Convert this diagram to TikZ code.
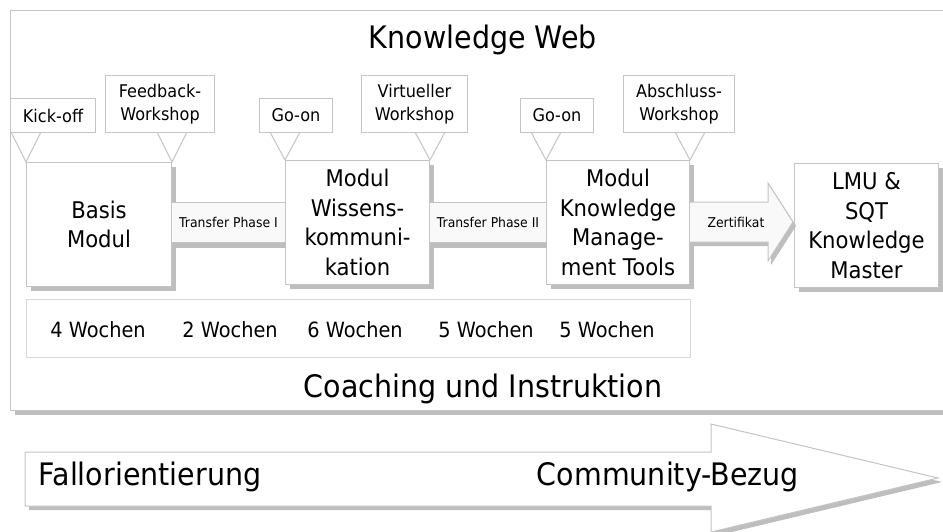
\documentclass[tikz,border=0pt]{standalone}
\usepackage{fontspec}
\setmainfont[FakeStretch=0.92]{DejaVu Sans}
\usetikzlibrary{shadows,calc}
\definecolor{lgray}{RGB}{196,196,196}
\definecolor{sgray}{RGB}{190,190,190}
\definecolor{wgray}{RGB}{216,216,216}
\definecolor{tfill}{RGB}{249,249,249}
\newcommand\myfs[2]{\fontsize{#1}{#2}\selectfont}
\begin{document}
\begin{tikzpicture}[x=1pt,y=-1pt,
 ln/.style={draw=lgray,line width=1pt},
 shad/.style={drop shadow={shadow xshift=4pt,shadow yshift=-4pt,fill=sgray,opacity=1}},
 callout/.style={ln,fill=white,anchor=north west,inner sep=0pt,align=center,font=\myfs{17.5}{23}},
 modbox/.style={ln,fill=white,shad,anchor=north west,inner sep=0pt,align=center,font=\myfs{23}{29.5}},
 transbox/.style={ln,fill=tfill,anchor=north west,inner sep=0pt,font=\myfs{13.5}{16},
   drop shadow={shadow xshift=0pt,shadow yshift=-5pt,fill=sgray,opacity=1}},
 big/.style={font=\myfs{31}{36},anchor=base},
 week/.style={font=\myfs{21}{25},anchor=base},
 small/.style={font=\myfs{13.5}{16}}]
\useasboundingbox (0,0) rectangle (943,531);

% outer frame
\node[ln,fill=white,shad,anchor=north west,minimum width=940pt,minimum height=400pt,inner sep=0pt] (web) at (10,10) {};
\node[big] (title) at (483,48) {Knowledge Web};
\node[big] (coach) at (483,397) {Coaching und Instruktion};

% weeks box
\node[draw=wgray,line width=1pt,fill=white,anchor=north west,minimum width=664pt,minimum height=58pt,inner sep=0pt] (weeks) at (26,299) {};
\node[week] (w1) at (98,337) {4 Wochen};
\node[week] (w2) at (230,337) {2 Wochen};
\node[week] (w3) at (355,337) {6 Wochen};
\node[week] (w4) at (486,337) {5 Wochen};
\node[week] (w5) at (607,337) {5 Wochen};

% modules
\node[modbox,minimum width=145pt,minimum height=124pt] (basis) at (26,162) {Basis\\Modul};
\node[modbox,minimum width=144pt,minimum height=124pt] (wk) at (285,160) {Modul\\Wissens-\\kommuni-\\kation};
\node[modbox,minimum width=143pt,minimum height=124pt] (km) at (546,160) {Modul\\Knowledge\\Manage-\\ment Tools};
\node[modbox,minimum width=144pt,minimum height=124pt] (lmu) at (794,163) {LMU \&\\SQT\\Knowledge\\Master};

% transfer boxes
\node[transbox,minimum width=114pt,minimum height=40pt] (t1) at (171,202) {Transfer Phase I};
\node[transbox,minimum width=117pt,minimum height=40pt] (t2) at (429,202) {Transfer Phase II};

% certificate arrow
\begin{scope}[shift={(3,4)}]
\fill[sgray] (690,202) -- (768,202) -- (768,183) -- (793,222) -- (768,261) -- (768,242) -- (690,242) -- cycle;
\end{scope}
\draw[ln,fill=tfill] (690,202) -- (768,202) -- (768,183) -- (793,222) -- (768,261) -- (768,242) -- (690,242);
\node[small] (cert) at (736,222) {Zertifikat};

% callouts
\node[callout,minimum width=85pt,minimum height=34pt] (ko) at (10,98) {Kick-off};
\node[callout,minimum width=109pt,minimum height=57pt] (fb) at (105,75) {Feedback-\\Workshop};
\node[callout,minimum width=73pt,minimum height=34pt] (go1) at (259,98) {Go-on};
\node[callout,minimum width=106pt,minimum height=57pt] (vw) at (361,75) {Virtueller\\Workshop};
\node[callout,minimum width=73pt,minimum height=34pt] (go2) at (520,98) {Go-on};
\node[callout,minimum width=111pt,minimum height=57pt] (aw) at (623,75) {Abschluss-\\Workshop};

\draw[ln] ($(ko.south -| basis.north west)+(-14.5,0)$) -- (basis.north west) -- ($(ko.south -| basis.north west)+(14.5,0)$);
\draw[ln] ($(fb.south -| basis.north east)+(-14.5,0)$) -- (basis.north east) -- ($(fb.south -| basis.north east)+(14.5,0)$);
\draw[ln] ($(go1.south -| wk.north west)+(-14.5,0)$) -- (wk.north west) -- ($(go1.south -| wk.north west)+(14.5,0)$);
\draw[ln] ($(vw.south -| wk.north east)+(-14.5,0)$) -- (wk.north east) -- ($(vw.south -| wk.north east)+(14.5,0)$);
\draw[ln] ($(go2.south -| km.north west)+(-14.5,0)$) -- (km.north west) -- ($(go2.south -| km.north west)+(14.5,0)$);
\draw[ln] ($(aw.south -| km.north east)+(-14.5,0)$) -- (km.north east) -- ($(aw.south -| km.north east)+(14.5,0)$);

% bottom arrow
\begin{scope}[shift={(4,4)}]
\fill[sgray] (25,452) -- (711,452) -- (711,424) -- (938,478) -- (711,532) -- (711,506) -- (25,506) -- cycle;
\end{scope}
\draw[ln,fill=white] (25,452) -- (711,452) -- (711,424) -- (938,478) -- (711,532) -- (711,506) -- (25,506) -- cycle;
\node[big] (fall) at (150,485) {Fallorientierung};
\node[big] (comm) at (668,485) {Community-Bezug};
\end{tikzpicture}
\end{document}
